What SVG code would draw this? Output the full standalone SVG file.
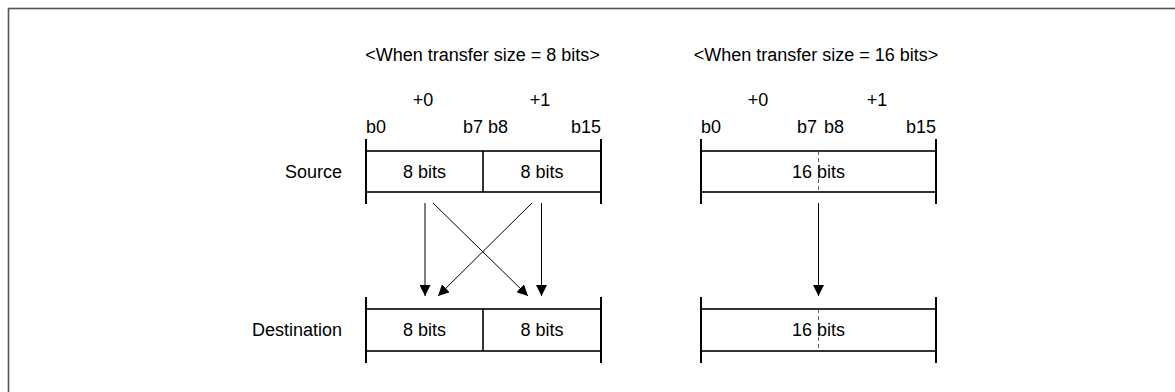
<svg xmlns="http://www.w3.org/2000/svg" width="1175" height="392" viewBox="0 0 1175 392">
<defs>
<style>
text{font-family:"Liberation Sans",Arial,sans-serif;font-size:18px;fill:#000}
.box{fill:#fff;stroke:#000;stroke-width:1.6}
.tick{stroke:#000;stroke-width:2}
.div{stroke:#000;stroke-width:1.6}
.dash{stroke:#555;stroke-width:0.9;stroke-dasharray:4 3}
.arr{stroke:#000;stroke-width:1;fill:none;marker-end:url(#ah)}
.mid{text-anchor:middle}
.end{text-anchor:end}
</style>
<marker id="ah" viewBox="0 0 10 10" refX="10" refY="5" markerWidth="11" markerHeight="11" markerUnits="userSpaceOnUse" orient="auto">
<path d="M0,0 L10,5 L0,10 z" fill="#000"/>
</marker>
</defs>
<rect x="0" y="0" width="1175" height="392" fill="#fff"/>
<rect x="8.5" y="8.5" width="1300" height="500" fill="none" stroke="#555" stroke-width="1.6"/>

<text x="482.5" y="61" class="mid">&lt;When transfer size = 8 bits&gt;</text>
<text x="816" y="61" class="mid">&lt;When transfer size = 16 bits&gt;</text>

<g id="labels">
<text x="342" y="178" class="end">Source</text>
<text x="342" y="336" class="end">Destination</text>
</g>

<g id="src8">
<text x="423" y="106" class="mid">+0</text>
<text x="540" y="106" class="mid">+1</text>
<text x="366" y="133">b0</text>
<text x="483" y="133" class="end">b7</text>
<text x="488" y="133">b8</text>
<text x="601" y="133" class="end">b15</text>
<rect class="box" x="366" y="151" width="235" height="41"/>
<line class="div" x1="483" y1="151" x2="483" y2="192"/>
<line class="tick" x1="366" y1="139" x2="366" y2="204"/>
<line class="tick" x1="601" y1="139" x2="601" y2="204"/>
<text x="424.5" y="178" class="mid">8 bits</text>
<text x="542" y="178" class="mid">8 bits</text>
</g>

<g id="dst8">
<rect class="box" x="366" y="309" width="235" height="42"/>
<line class="div" x1="483" y1="309" x2="483" y2="351"/>
<line class="tick" x1="366" y1="297" x2="366" y2="363"/>
<line class="tick" x1="601" y1="297" x2="601" y2="363"/>
<text x="424.5" y="336" class="mid">8 bits</text>
<text x="542" y="336" class="mid">8 bits</text>
</g>

<g id="src16">
<text x="758" y="106" class="mid">+0</text>
<text x="877" y="106" class="mid">+1</text>
<text x="701" y="133">b0</text>
<text x="817" y="133" class="end">b7</text>
<text x="824" y="133">b8</text>
<text x="936" y="133" class="end">b15</text>
<rect class="box" x="701" y="151" width="235" height="41"/>
<line class="dash" x1="818.5" y1="151" x2="818.5" y2="192"/>
<line class="tick" x1="701" y1="139" x2="701" y2="204"/>
<line class="tick" x1="936" y1="139" x2="936" y2="204"/>
<text x="818.5" y="178" class="mid">16 bits</text>
</g>

<g id="dst16">
<rect class="box" x="701" y="309" width="235" height="42"/>
<line class="dash" x1="818.5" y1="309" x2="818.5" y2="351"/>
<line class="tick" x1="701" y1="297" x2="701" y2="363"/>
<line class="tick" x1="936" y1="297" x2="936" y2="363"/>
<text x="818.5" y="336" class="mid">16 bits</text>
</g>

<g id="connectors">
<line class="arr" x1="425" y1="203" x2="425" y2="296"/>
<line class="arr" x1="541.5" y1="203" x2="541.5" y2="296"/>
<line class="arr" x1="433" y1="203" x2="528" y2="296"/>
<line class="arr" x1="532" y1="203" x2="438" y2="296"/>
<line class="arr" x1="818.5" y1="203" x2="818.5" y2="296"/>
</g>
</svg>
